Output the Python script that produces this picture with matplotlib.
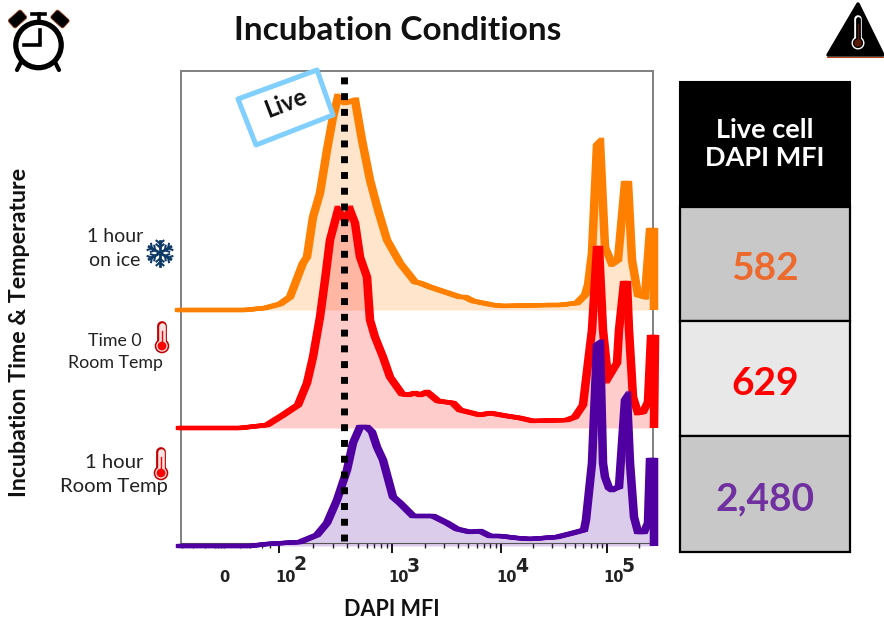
import matplotlib
matplotlib.use('Agg')
import matplotlib.pyplot as plt
import numpy as np
from matplotlib.patches import Polygon, Circle, Rectangle, FancyBboxPatch
from matplotlib.transforms import Affine2D

# ---- data: display channel (biexponential axis) vs events, one list per sample
ice_x = [-4,64,84,99,109,122,126,132,139,146,152,157,164,174,181,189,197,206,219,234,239,249,264,279,284,292,312,322,366,379,396,404,407,411,416,419,424,431,437,444,447,451,457,464,469,473,473]
ice_y = [0,0,2,6,13,47,53,93,117,160,193,213,207,210,170,130,100,70,47,28,27,23,18,13,13,9,5,4,5,5,7,15,25,57,165,168,63,46,50,127,127,50,15,13,80,80,0]
t0_x = [-3,59,86,102,117,126,132,139,144,149,157,164,169,174,179,186,189,194,202,209,221,227,234,239,246,257,272,279,299,309,326,339,352,386,394,402,407,411,416,418,422,427,436,438,443,446,448,452,457,462,467,470,474,473]
t0_y = [0,0,3,13,23,45,71,111,148,188,218,208,218,205,171,151,108,91,71,51,34,33,35,33,36,27,25,18,13,15,12,10,7,8,11,23,65,98,180,180,98,50,65,98,145,145,98,31,15,16,26,91,91,0]
rt_x = [-3,69,86,102,119,136,146,156,166,172,179,186,191,196,202,212,219,232,252,266,276,289,299,309,319,336,349,376,392,403,405,411,416,419,422,424,428,431,435,438,444,446,449,453,457,463,467,469,473,473]
rt_y = [0,0,2,3,4,11,23,46,76,103,119,119,114,99,86,49,43,30,30,23,17,14,15,10,10,8,7,9,13,16,26,83,201,203,83,69,58,56,58,59,146,149,83,29,14,14,23,86,86,0]

baselines = [233, 115, -3]
line_colors = ['#FF8000', '#FF0000', '#5000A0']
live_gate = 163
major_channels = [98, 211, 320, 426]
exponents = ['2', '3', '4', '5']
low_ticks = [1, 12, 24, 34, 37, 40, 43, 59, 69, 81, 89]

row_labels = ['1 hour\non ice', 'Time 0\nRoom Temp', '1 hour\nRoom Temp']
mfi_values = ['582', '629', '2,480']
mfi_colors = ['#EC6A2E', '#FF0000', '#7030A0']
cell_colors = ['#C8C8C8', '#E8E8E8', '#C8C8C8']

plt.rcParams['font.family'] = ['Lato', 'DejaVu Sans']
W, H = 884, 622
fig = plt.figure(figsize=(W/100, H/100), dpi=100)
ax = fig.add_axes([181/W, 1-543/H, 472/W, 472/H])
ax.set_xlim(0, 472)
ax.set_ylim(0, 472)

series = [(ice_x, ice_y), (t0_x, t0_y), (rt_x, rt_y)]
for (x, y), b, lc in zip(series, baselines, line_colors):
    yy = np.array(y) + b
    ax.fill_between(x, b, yy, color=lc, alpha=0.2, lw=0, clip_on=False, zorder=2)
# the source plot was stretched sideways: strokes are wider on steep flanks
for (x, y), b, lc in zip(series, baselines, line_colors):
    yy = np.array(y) + b
    for dx in (-2.2, -1.1, 0, 1.1, 2.2):
        ax.plot(np.array(x) + dx, yy, color=lc, lw=3.0, clip_on=False, zorder=3,
                solid_joinstyle='miter', solid_capstyle='butt')

ax.plot([live_gate, live_gate], [2, 470], color='black', lw=5.0, ls=(0, (1, 1.27)), zorder=6, clip_on=False)

for s in ['top', 'left', 'right']:
    ax.spines[s].set_color('#808080')
    ax.spines[s].set_linewidth(1.4)
ax.spines['bottom'].set_color('#555555')
ax.spines['bottom'].set_linewidth(0.8)
ax.set_yticks([])
ax.set_xticks(major_channels)
ax.set_xticklabels([])
ax.tick_params(axis='x', which='major', length=7, width=1.3, color='black')
minors = list(low_ticks)
for m, nxt in zip(major_channels, major_channels[1:] + [532]):
    for k in range(2, 10):
        minors.append(m + (nxt - m) * np.log10(k))
minors = [m for m in minors if m <= 470]
ax.set_xticks(minors, minor=True)
ax.tick_params(axis='x', which='minor', length=3.5, width=1.0, color='#222222')

# ---- overlay in pixel coordinates for annotations
ov = fig.add_axes([0, 0, 1, 1], zorder=10)
ov.set_xlim(0, W); ov.set_ylim(H, 0); ov.axis('off'); ov.patch.set_alpha(0)

def T(x, y, s, **k):
    k.setdefault('ha', 'center'); k.setdefault('va', 'center')
    return ov.text(x, y, s, **k)

T(398, 30, 'Incubation Conditions', fontsize=24, fontweight='bold', color='#111111')
T(392, 610, 'DAPI MFI', fontsize=15.6, fontweight='bold', color='#111111')
T(20, 332, 'Incubation Time & Temperature', fontsize=16.7, fontweight='bold', rotation=90, color='#111111')

T(115, 248.5, row_labels[0], fontsize=14, linespacing=1.45, color='#222222')
T(115, 352, row_labels[1], fontsize=12.8, linespacing=1.45, color='#222222')
T(114, 474.5, row_labels[2], fontsize=14.6, linespacing=1.55, color='#222222')

# tick labels
T(224, 578, '0', fontsize=10.5, fontweight='bold', family='DejaVu Sans', color='#222222')
for cx, ex, ey, e in zip([286, 399, 507, 614], [300, 413, 522, 628], [564, 567, 567, 567], exponents):
    T(cx, 578, '10', fontsize=10.5, fontweight='bold', family='DejaVu Sans', color='#222222')
    T(ex, ey, e, fontsize=13.5, fontweight='bold', family='DejaVu Sans', color='#222222')

# Live flag
ov.add_patch(Polygon([(238, 99), (317, 70), (333, 115), (256, 145)], closed=True, fc='white', ec='#80CFFF', lw=3.6, joinstyle='round', zorder=4))
T(286, 103, 'Live', fontsize=17, fontweight='bold', rotation=21, color='#111111', zorder=5)

# table
rows = [(207, 321), (321, 436), (436, 552)]
ov.add_patch(Rectangle((680, 82), 170, 125, fc='black', ec='black', lw=1.5))
T(765, 144, 'Live cell\nDAPI MFI', fontsize=19.5, fontweight='bold', color='white', linespacing=1.25)
for (a, b), c, v, tc in zip(rows, cell_colors, mfi_values, mfi_colors):
    ov.add_patch(Rectangle((680, a), 170, b-a, fc=c, ec='black', lw=1.6))
    T(765, (a+b)/2 + 5, v, fontsize=28, fontweight='bold', color=tc)

# alarm clock
ek = '#B8481A'
ov.add_patch(Circle((38.5, 45), 22.7, fc='none', ec='black', lw=3.8))
ov.plot([39.5, 39.5, 24], [30, 45, 45], color='black', lw=2.6, solid_joinstyle='miter')
ov.plot([38.5, 38.5], [14, 22], color='black', lw=2.6)
ov.plot([32, 45], [13.5, 13.5], color='black', lw=2.6)
ov.plot([21, 17], [62, 70], color='black', lw=3, solid_capstyle='round')
ov.plot([55, 59], [62, 70], color='black', lw=3, solid_capstyle='round')
for cx, ang in [(17.5, -42), (60, 42)]:
    p = FancyBboxPatch((-8.5, -5.5), 17, 11, boxstyle='round,pad=0,rounding_size=2', fc='black', ec=ek, lw=0.5,
                       transform=Affine2D().rotate_deg(ang).translate(cx, 19) + ov.transData)
    ov.add_patch(p)

# warning triangle
ov.add_patch(Polygon([(858, 4), (828, 55), (883, 55)], closed=True, fc='black', ec='black', lw=2.5, joinstyle='round'))
ov.plot([827, 884], [56.5, 56.5], color=ek, lw=0.8)

def thermo(cx, top, by, r, tube, outer, inner, hot, lw):
    ov.plot([cx, cx], [top + tube, by], color=outer, lw=(tube*2+lw*2)*0.72, solid_capstyle='round', zorder=7)
    ov.add_patch(Circle((cx, by), r, fc=outer, ec=outer, lw=0, zorder=7))
    ov.plot([cx, cx], [top + tube, by], color=inner, lw=(tube*2)*0.72, solid_capstyle='round', zorder=8)
    ov.add_patch(Circle((cx, by), r - lw, fc=inner, ec=inner, lw=0, zorder=8))
    ov.add_patch(Circle((cx, by), r - lw - 1.3, fc=hot, ec=hot, lw=0, zorder=9))
    ov.plot([cx, cx], [top + tube + 5, by], color=hot, lw=1.0, zorder=9)

thermo(858, 17, 43, 6.5, 2.4, 'white', 'black', '#5A1A08', 1.4)
thermo(162, 323, 346, 7.3, 3.3, '#C00000', '#FBE3E3', '#FF0000', 1.6)
thermo(161, 449, 473, 7.3, 3.3, '#C00000', '#FBE3E3', '#FF0000', 1.6)

# snowflake
cx, cy, R = 160, 253, 12.5
for a in np.deg2rad(np.arange(0, 180, 60) + 90):
    dx, dy = np.cos(a), np.sin(a)
    ov.plot([cx-R*dx, cx+R*dx], [cy-R*dy, cy+R*dy], color='#0F3A66', lw=2.0)
for a in np.deg2rad(np.arange(0, 360, 60) + 90):
    dx, dy = np.cos(a), np.sin(a)
    for d in (0.45, 0.75):
        for s in (-1, 1):
            b = a + s*np.deg2rad(50)
            x0, y0 = cx + R*d*dx, cy + R*d*dy
            ov.plot([x0, x0 + 4.5*np.cos(b)], [y0, y0 + 4.5*np.sin(b)], color='#0F3A66', lw=1.5)

fig.savefig('out.png', dpi=100)
